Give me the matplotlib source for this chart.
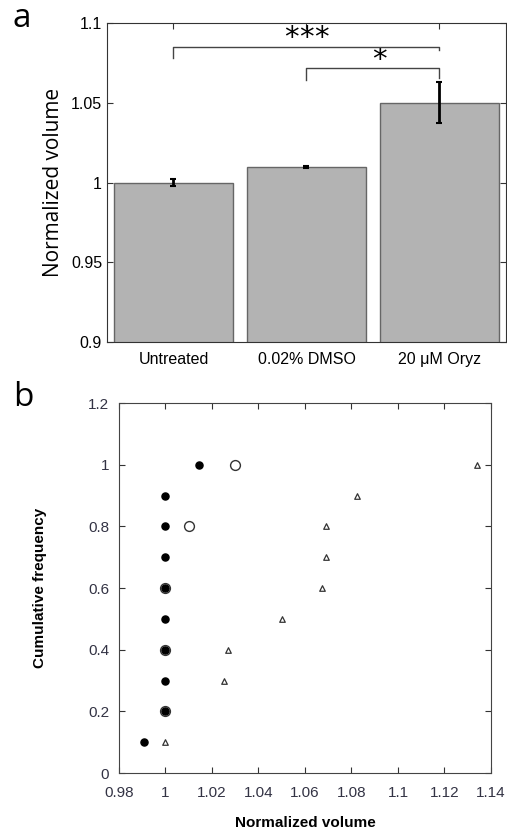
import matplotlib.pyplot as plt
import numpy as np

# panel a data
groups = ["Untreated", "0.02% DMSO", "20 μM Oryz"]
means = [1.0, 1.01, 1.05]
errs = [0.002, 0.0006, 0.013]

# panel b data (cumulative frequency vs normalized volume)
filled_x = [0.9908, 1.0, 1.0, 1.0, 1.0, 1.0, 1.0, 1.0, 1.0, 1.0145]
filled_y = [0.1, 0.2, 0.3, 0.4, 0.5, 0.6, 0.7, 0.8, 0.9, 1.0]
open_x = [1.0, 1.0, 1.0, 1.0101, 1.03]
open_y = [0.2, 0.4, 0.6, 0.8, 1.0]
tri_x = [1.0, 1.0252, 1.0269, 1.05, 1.0672, 1.069, 1.069, 1.0822, 1.1338]
tri_y = [0.1, 0.3, 0.4, 0.5, 0.6, 0.7, 0.8, 0.9, 1.0]

plt.rcParams['font.family'] = ['Liberation Sans', 'DejaVu Sans']

fig = plt.figure(figsize=(5.07, 8.33), dpi=100)

# ---- panel a ----
ax1 = fig.add_axes([0.211, 0.5894, 0.787, 0.383])
pos = np.arange(1, len(groups) + 1)
ax1.bar(pos, means, width=0.9, color='#b3b3b3', edgecolor='#666666', linewidth=1, zorder=2)
ax1.errorbar(pos, means, yerr=errs, fmt='none', ecolor='black', elinewidth=2,
             capsize=2.5, capthick=1.5, zorder=3)
ax1.set_xlim(0.5, 3.5)
ax1.set_ylim(0.9, 1.1)
ax1.set_yticks([0.9, 0.95, 1.0, 1.05, 1.1])
ax1.set_yticklabels(['0.9', '0.95', '1', '1.05', '1.1'])
ax1.set_xticks(pos)
ax1.set_xticklabels(groups)
ax1.tick_params(direction='in', top=True, right=True, labelsize=11.5, length=4,
                colors='#333333', labelcolor='black')
ax1.tick_params(axis='x', pad=7)
for s in ax1.spines.values():
    s.set_color('#333333')
    s.set_linewidth(0.8)
ax1.set_ylabel('Normalized volume', fontsize=15, family=['Open Sans', 'DejaVu Sans'], labelpad=5)

# significance brackets
bc = '#444444'
ax1.plot([1, 1, 3, 3], [1.078, 1.085, 1.085, 1.083], color=bc, lw=1, zorder=4)
for dx in (-0.116, 0, 0.116):
    ax1.text(2 + dx, 1.0905, '*', ha='center', va='center', fontsize=21, family='DejaVu Sans')
ax1.plot([2, 2, 3, 3], [1.064, 1.072, 1.072, 1.0655], color=bc, lw=1, zorder=4)
ax1.text(2.55, 1.077, '*', ha='center', va='center', fontsize=21, family='DejaVu Sans')

fig.text(0.043, 0.978, 'a', fontsize=24, ha='center', va='center',
         family=['Open Sans', 'DejaVu Sans'])

# ---- panel b ----
ax2 = fig.add_axes([0.2347, 0.072, 0.7337, 0.4442])
ax2.scatter(open_x, open_y, s=50, facecolors='white', edgecolors='#333333', linewidths=1, zorder=2)
ax2.scatter(filled_x, filled_y, s=26, color='black', zorder=3)
ax2.scatter(tri_x, tri_y, s=16, marker='^', facecolors='white', edgecolors='#333333',
            linewidths=0.9, zorder=2)
ax2.set_xlim(0.98, 1.14)
ax2.set_ylim(0, 1.2)
xt = [0.98, 1.0, 1.02, 1.04, 1.06, 1.08, 1.1, 1.12, 1.14]
ax2.set_xticks(xt)
ax2.set_xticklabels(['0.98', '1', '1.02', '1.04', '1.06', '1.08', '1.1', '1.12', '1.14'])
yt = [0, 0.2, 0.4, 0.6, 0.8, 1.0, 1.2]
ax2.set_yticks(yt)
ax2.set_yticklabels(['0', '0.2', '0.4', '0.6', '0.8', '1', '1.2'])
ax2.tick_params(direction='in', top=True, right=True, labelsize=11, length=4,
                colors='#333333', labelcolor='#333344')
ax2.tick_params(axis='x', pad=9)
ax2.tick_params(axis='y', pad=7)
for s in ax2.spines.values():
    s.set_color('#444444')
    s.set_linewidth(0.8)
ax2.set_xlabel('Normalized volume', fontsize=11, fontweight='bold')
ax2.set_ylabel('Cumulative frequency', fontsize=11, fontweight='bold')
ax2.xaxis.set_label_coords(0.5, -0.116)
ax2.yaxis.set_label_coords(-0.194, 0.5)

fig.text(0.045, 0.523, 'b', fontsize=24, ha='center', va='center',
         family=['Open Sans', 'DejaVu Sans'])

fig.savefig('out.png', dpi=100)
